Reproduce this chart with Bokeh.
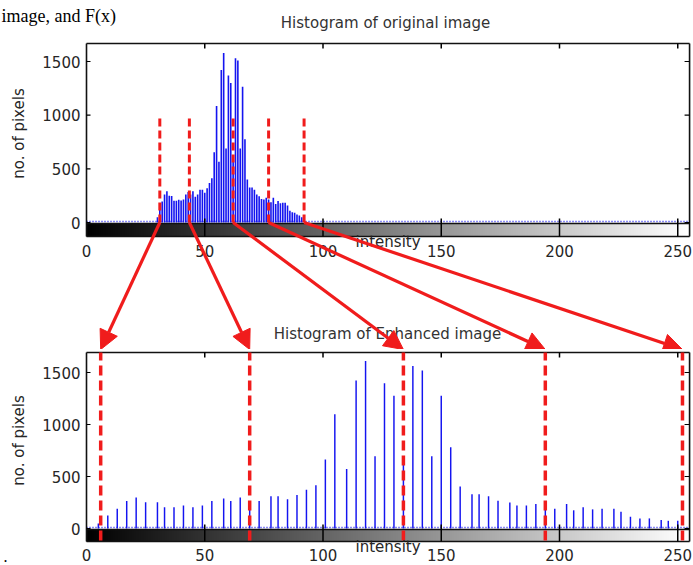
import math
import numpy as np
from bokeh.plotting import figure
from bokeh.layouts import column
from bokeh.models import (ColumnDataSource, Range1d, Label, LabelSet, Arrow, NormalHead)
from bokeh.core.properties import value
from bokeh.embed import file_html
from bokeh.resources import INLINE

# ---------------- data ----------------
orig_levels = list(range(30, 92))
orig_counts = [50, 130, 195, 262, 290, 250, 248, 202, 202, 212,
               204, 215, 262, 285, 262, 292, 240, 262, 305, 305,
               278, 320, 368, 412, 655, 1085, 565, 1420, 1580, 690,
               1370, 1300, 625, 1530, 1510, 690, 1265, 775, 400, 325,
               325, 305, 262, 245, 218, 215, 230, 215, 188, 230,
               172, 200, 180, 185, 185, 158, 110, 95, 90, 75,
               65, 50]
enh_levels = [5, 9, 13, 17, 21, 25, 30, 33, 37, 41,
              45, 49, 53, 58, 61, 65, 69, 73, 78, 81,
              85, 89, 93, 97, 101, 105, 110, 114, 118, 122,
              126, 130, 134, 138, 142, 146, 150, 154, 158, 163,
              166, 170, 174, 179, 182, 186, 190, 194, 198, 203,
              206, 210, 214, 218, 223, 226, 230, 234, 238, 243,
              246, 250]
enh_counts = [48, 126, 191, 265, 297, 252, 252, 204, 204, 220,
              204, 220, 265, 288, 265, 297, 240, 265, 310, 310,
              281, 323, 372, 417, 663, 1099, 572, 1423, 1610, 695,
              1397, 1277, 630, 1562, 1520, 695, 1277, 782, 404, 330,
              330, 310, 268, 249, 220, 220, 236, 220, 191, 236,
              175, 204, 184, 191, 191, 162, 113, 97, 97, 81,
              74, 74]
x_ticks = [0, 50, 100, 150, 200, 250]
y_ticks = [0, 500, 1000, 1500]
orig_cuts = [31, 43.5, 62, 77, 92]
enh_cuts = [6, 69, 134, 194, 252]
base_count = 10
level_min, level_max = 0, 255
title_top = "Histogram of original image"
title_bottom = "Histogram of Enhanced image"
x_label = "intensity"
y_label = "no. of pixels"
page_text = "image, and F(x)"

# ---------------- style / layout ----------------
RED = "#f01c1c"
BLUE = "#1414f0"
TXT = "#262626"
FONT = "DejaVu Sans"
FS = "15px"
W, H = 693, 565
X0_PX = 86            # pixel column of intensity 0
PX_PER_X = 2.365      # pixels per intensity level
SPLIT = 349           # pixel row where the two figures meet
GRAYS = ["#%02x%02x%02x" % (i, i, i) for i in range(256)]

# pixel geometry of each panel (page rows)
T = dict(fig_top=0, fig_bot=SPLIT, frame_top=43, zero=222, tick1500=61,
         cb_top=223, cb_bot=236, lab=250, xlab=241, ylab=133, bar_w=0.68)
B = dict(fig_top=SPLIT, fig_bot=H, frame_top=352, zero=528, tick1500=372,
         cb_top=529, cb_bot=541, lab=554, xlab=546, ylab=440, bar_w=0.62)


def mapper(g):
    scale = (g["zero"] - g["tick1500"]) / 1500.0
    return lambda py: (g["zero"] - py) / scale


def fx(px):  # pixel column -> intensity units
    return (px - X0_PX) / PX_PER_X


def dx(px):  # pixel width -> intensity units
    return px / PX_PER_X


def txt_label(p, x, y, text, align="center", angle=0.0, color=TXT, font=FONT,
              size=FS, baseline="middle"):
    p.add_layout(Label(x=x, y=y, text=text, angle=angle, text_align=align,
                       text_baseline=baseline, text_font=font,
                       text_font_size=size, text_color=color))


def make_panel(g, levels, counts, cuts, cut_y0, cut_y1, dash, dash_w):
    fy = mapper(g)
    p = figure(width=W, height=g["fig_bot"] - g["fig_top"],
               output_backend="svg", toolbar_location=None,
               x_range=Range1d(fx(0), fx(W)),
               y_range=Range1d(fy(g["fig_bot"]), fy(g["fig_top"])),
               x_axis_location=None, y_axis_location=None,
               min_border=0, min_border_left=0, min_border_right=0,
               min_border_top=0, min_border_bottom=0,
               background_fill_color="white", border_fill_color="white",
               outline_line_color=None)
    p.grid.visible = False

    # colour bar (gray ramp over intensity levels)
    grad = np.array([list(range(level_min, level_max + 1))], dtype=float)
    p.image(image=[grad], x=level_min, y=fy(g["cb_bot"]),
            dw=level_max - level_min, dh=fy(g["cb_top"]) - fy(g["cb_bot"]),
            palette=GRAYS)

    # baseline of near-empty bins
    p.segment(x0=[level_min], x1=[level_max], y0=[base_count], y1=[base_count],
              line_color=BLUE, line_width=1.6, line_dash="1 2")
    # histogram bars
    src = ColumnDataSource(dict(x=levels, top=counts))
    p.vbar(x="x", top="top", bottom=0, width=g["bar_w"], source=src,
           fill_color=BLUE, line_color=None)

    # frame lines
    yt, yb = fy(g["frame_top"]), fy(g["cb_bot"])
    p.segment(x0=[level_min, level_min, level_max], x1=[level_min, level_max, level_max],
              y0=[yb, yt, yb], y1=[yt, yt, yt], line_color="#111111", line_width=1.6)
    p.segment(x0=[level_min, level_min], x1=[level_max, level_max],
              y0=[fy(g["cb_top"]), fy(g["cb_bot"])], y1=[fy(g["cb_top"]), fy(g["cb_bot"])],
              line_color="#111111", line_width=1.5)
    # tick marks: top border, colour bar, left and right border
    xt = x_ticks[1:]
    p.segment(x0=xt, x1=xt, y0=[yt] * len(xt), y1=[fy(g["frame_top"] + 5)] * len(xt),
              line_color="black", line_width=1.5)
    p.segment(x0=xt, x1=xt, y0=[fy(g["cb_bot"])] * len(xt),
              y1=[fy(g["cb_top"] - 5)] * len(xt), line_color="black", line_width=1.5)
    n = len(y_ticks)
    p.segment(x0=[level_max - dx(5)] * n, x1=[level_max] * n,
              y0=y_ticks, y1=y_ticks, line_color="black", line_width=1.2)
    p.segment(x0=[level_min] * n, x1=[level_min + dx(4)] * n,
              y0=y_ticks, y1=y_ticks, line_color="black", line_width=1.2)

    # red dashed cut lines
    p.segment(x0=cuts, x1=cuts, y0=[cut_y0] * len(cuts), y1=[cut_y1] * len(cuts),
              line_color=RED, line_width=dash_w, line_dash=dash)

    # tick labels
    xs = ColumnDataSource(dict(x=x_ticks, y=[fy(g["lab"])] * len(x_ticks),
                               t=[str(v) for v in x_ticks]))
    p.add_layout(LabelSet(x="x", y="y", text="t", source=xs, text_align="center",
                          text_baseline="middle", text_font=value(FONT),
                          text_font_size=value(FS), text_color=TXT))
    ys = ColumnDataSource(dict(x=[level_min - dx(6)] * n, y=y_ticks,
                               t=[str(v) for v in y_ticks]))
    p.add_layout(LabelSet(x="x", y="y", text="t", source=ys, text_align="right",
                          text_baseline="middle", text_font=value(FONT),
                          text_font_size=value(FS), text_color=TXT))
    # axis labels
    txt_label(p, (level_min + level_max) / 2, fy(g["xlab"]), x_label)
    txt_label(p, fx(18), fy(g["ylab"]), y_label, angle=math.pi / 2)
    return p, fy


ft0, fb0 = mapper(T), mapper(B)
top, ft = make_panel(T, orig_levels, orig_counts, orig_cuts, 0, 1000, "8 4", 3)
bot, fb = make_panel(B, enh_levels, enh_counts, enh_cuts,
                     fb0(B["cb_bot"] - 1), fb0(B["frame_top"]), "10 5", 3.5)

# titles
txt_label(top, fx(385), ft(22), title_top, color="#333333")
txt_label(top, fx(387), ft(333), title_bottom, color="#333333")
# fragment of the surrounding page text
txt_label(top, fx(1), ft(15), page_text, align="left", color="black",
          font="Liberation Serif", size="18px", baseline="alphabetic")
txt_label(bot, fx(3), fb(556), ".", align="left", color="black",
          font="Liberation Serif", size="16px", baseline="alphabetic")

# arrows mapping cut points of the original histogram to the enhanced one
arr_src = ColumnDataSource(dict(x0=orig_cuts, y0=[0] * len(orig_cuts),
                                x1=enh_cuts, y1=[ft(SPLIT)] * len(enh_cuts)))
top.add_layout(Arrow(x_start="x0", y_start="y0", x_end="x1", y_end="y1", source=arr_src,
                     line_color=RED, line_width=3.2,
                     end=NormalHead(size=19, fill_color=RED, line_color=RED, line_width=1)))

layout = column(top, bot, spacing=0)
open("out.html", "w").write(file_html(layout, INLINE))
